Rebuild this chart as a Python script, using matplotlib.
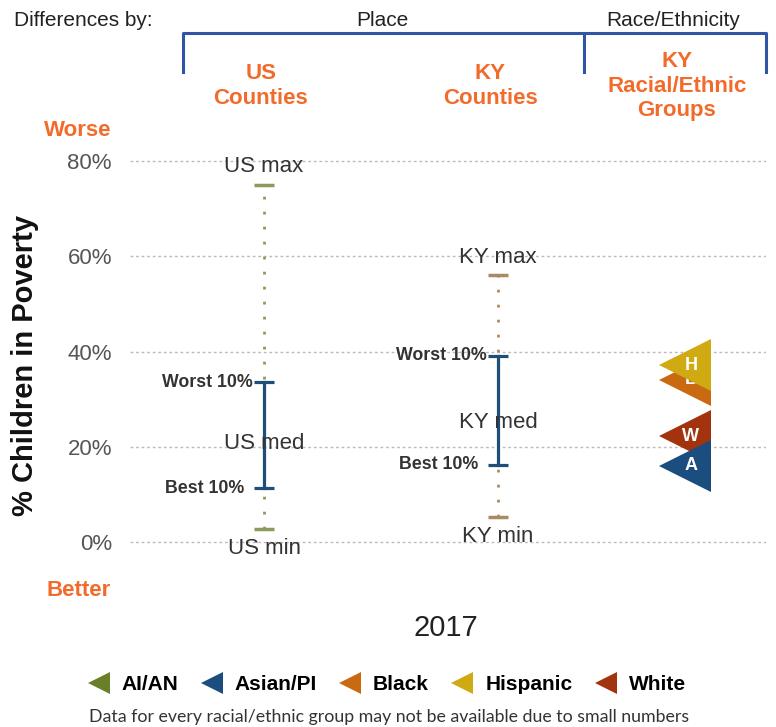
import matplotlib
matplotlib.use("Agg")
import matplotlib.pyplot as plt
from matplotlib.lines import Line2D

plt.rcParams["font.family"] = ["Liberation Sans", "DejaVu Sans"]

# data (% children in poverty, 2017)
place_labels = ["US", "KY"]
place_max = [75.0, 56.0]
place_worst10 = [33.6, 39.1]
place_median = [20.6, 25.0]
place_best10 = [11.3, 16.2]
place_min = [2.7, 5.3]

# racial/ethnic groups in KY, drawn bottom-up in this order
race_names = ["Black", "Hispanic", "White", "Asian/PI"]
race_letters = ["B", "H", "W", "A"]
race_values = [34.1, 37.1, 22.2, 16.0]

legend_names = ["AI/AN", "Asian/PI", "Black", "Hispanic", "White"]
group_colors = {
    "AI/AN": "#6A7F2A",
    "Asian/PI": "#1B4D7E",
    "Black": "#C96A12",
    "Hispanic": "#CFAA12",
    "White": "#A3320F",
}
y_ticks = [0, 20, 40, 60, 80]
year = "2017"

ORANGE = "#F26B2A"
BRACKET = "#2F55A4"
BAR_BLUE = "#1F4E79"
whisker_colors = ["#8C9A5B", "#A88B64"]

W, H = 776, 727


def fx(x):
    return x / W


def fy(y):
    return 1 - y / H


fig = plt.figure(figsize=(W / 100, H / 100), dpi=100)

# axes: 0% at y=542px, 4.76 px per %
y_lo, y_hi = -5, 85
top_px = 542 - y_hi * 4.76
bot_px = 542 - y_lo * 4.76
ax = fig.add_axes([fx(130), fy(bot_px), (766 - 130) / W, (bot_px - top_px) / H])
ax.set_ylim(y_lo, y_hi)
ax.set_xlim(-0.573, 2.145)
x_place = [0, 1]
x_race = 1.8

for s in ax.spines.values():
    s.set_visible(False)
ax.set_xticks([])
ax.set_yticks(y_ticks)
ax.set_yticklabels([f"{v}%" for v in y_ticks])
ax.tick_params(axis="y", length=0, pad=13, labelsize=16, labelcolor="#555555")
ax.yaxis.grid(True, color="#BBBBBB", linestyle=(0, (2, 2)), linewidth=1)
ax.set_axisbelow(True)

# county distributions
for i, x in enumerate(x_place):
    c = whisker_colors[i]
    ax.plot([x, x], [place_min[i], place_max[i]], color=c, lw=2,
            linestyle=(0, (1, 4.4)), zorder=2)
    ax.plot([x, x], [place_min[i], place_max[i]], marker="_", ms=14, mew=2.5,
            color=c, ls="none", zorder=3)
    ax.plot([x, x], [place_best10[i], place_worst10[i]], color=BAR_BLUE, lw=2.3,
            marker="_", ms=14, mew=2.3, zorder=4)
    lab = place_labels[i]
    ax.annotate(f"{lab} max", (x, place_max[i]), xytext=(0, 13), textcoords="offset points",
                ha="center", va="center", fontsize=16, color="#333333", zorder=5)
    ax.annotate(f"{lab} min", (x, place_min[i]), xytext=(0, -14), textcoords="offset points",
                ha="center", va="center", fontsize=16, color="#333333", zorder=5)
    ax.text(x, place_median[i], f"{lab} med", ha="center", va="center",
            fontsize=16, color="#333333", zorder=5)
    ax.annotate("Worst 10%", (x, place_worst10[i]), xytext=(-8, 0), textcoords="offset points",
                ha="right", va="center", fontsize=12.8, fontweight="bold", color="#333333")
    ax.annotate("Best 10%", (x, place_best10[i]), xytext=(-14, 0), textcoords="offset points",
                ha="right", va="center", fontsize=12.8, fontweight="bold", color="#333333")

# racial/ethnic groups
for k, (name, letter, val) in enumerate(zip(race_names, race_letters, race_values)):
    ax.plot(x_race, val, marker="<", ms=38, mew=0, color=group_colors[name],
            ls="none", zorder=10 + 2 * k)
    ax.annotate(letter, (x_race, val), xytext=(4, 0), textcoords="offset points",
                ha="center", va="center", fontsize=13, fontweight="bold",
                color="white", zorder=11 + 2 * k)

# header
fig.text(fx(83), fy(20), "Differences by:", ha="center", va="center", fontsize=15, color="#222222")
fig.text(fx(382), fy(20), "Place", ha="center", va="center", fontsize=15, color="#222222")
fig.text(fx(673), fy(20), "Race/Ethnicity", ha="center", va="center", fontsize=15, color="#222222")
for xs, ys in [([183, 183, 766, 766], [72, 33, 33, 72]), ([584, 584], [33, 72])]:
    fig.add_artist(Line2D([fx(v) for v in xs], [fy(v) for v in ys], color=BRACKET, lw=2.2))

fig.text(fx(261), fy(86), "US\nCounties", ha="center", va="center", fontsize=16,
         fontweight="bold", color=ORANGE, linespacing=1.2)
fig.text(fx(490), fy(86), "KY\nCounties", ha="center", va="center", fontsize=16,
         fontweight="bold", color=ORANGE, linespacing=1.2)
fig.text(fx(677), fy(86), "KY\nRacial/Ethnic\nGroups", ha="center", va="center", fontsize=16,
         fontweight="bold", color=ORANGE, linespacing=1.2)

fig.text(fx(78), fy(131), "Worse", ha="center", va="center", fontsize=16, fontweight="bold", color=ORANGE)
fig.text(fx(79), fy(590), "Better", ha="center", va="center", fontsize=16, fontweight="bold", color=ORANGE)
fig.text(fx(25), fy(365), "% Children in Poverty", ha="center", va="center", rotation=90,
         fontsize=21, fontweight="bold", color="#111111")
fig.text(fx(446), fy(628), year, ha="center", va="center", fontsize=21, color="#222222")

# legend
handles = [Line2D([], [], marker="<", ms=16, mew=0, ls="none", color=group_colors[n])
           for n in legend_names]
fig.legend(handles, legend_names, loc="center", bbox_to_anchor=(fx(387), fy(685)), ncol=5,
           frameon=False, handlelength=1.0, handletextpad=0.6, columnspacing=1.1,
           prop={"weight": "bold", "size": 15})
fig.text(fx(389), fy(717), "Data for every racial/ethnic group may not be available due to small numbers",
         ha="center", va="center", fontsize=12.8, color="#333333", family=["Lato", "DejaVu Sans"])

fig.savefig("out.png", dpi=100)
